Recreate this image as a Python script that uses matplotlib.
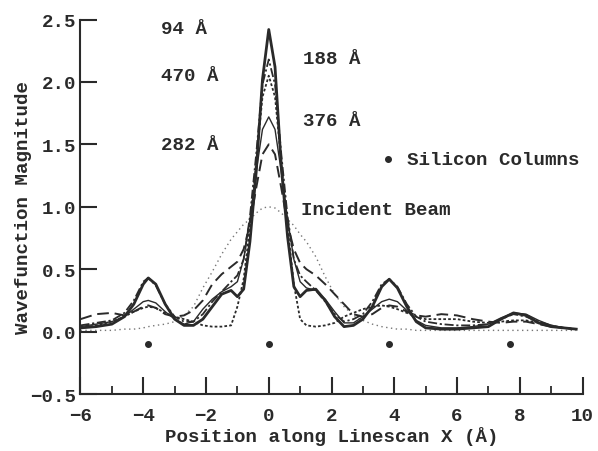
import matplotlib
matplotlib.use("Agg")
import matplotlib.pyplot as plt
from matplotlib.ticker import MultipleLocator

x = [-6, -5.5, -5, -4.6, -4.3, -4.0, -3.84, -3.6, -3.3, -3.0, -2.7, -2.4, -2.1, -1.8, -1.5,
     -1.2, -1.0, -0.8, -0.6, -0.4, -0.2, 0, 0.2, 0.4, 0.6, 0.8, 1.0, 1.2, 1.5, 1.8, 2.1,
     2.4, 2.7, 3.0, 3.3, 3.6, 3.84, 4.1, 4.4, 4.7, 5.0, 5.5, 6.0, 6.5, 7.0, 7.4, 7.8,
     8.2, 8.6, 9.0, 9.4, 9.8]

t94 = [0.03, 0.04, 0.06, 0.12, 0.22, 0.38, 0.43, 0.38, 0.22, 0.10, 0.05, 0.05, 0.10, 0.20, 0.30,
       0.33, 0.28, 0.34, 0.72, 1.28, 2.02, 2.42, 2.12, 1.32, 0.76, 0.36, 0.28, 0.33, 0.34, 0.25, 0.12,
       0.04, 0.05, 0.10, 0.20, 0.36, 0.42, 0.35, 0.20, 0.08, 0.03, 0.02, 0.02, 0.03, 0.04, 0.10, 0.15,
       0.13, 0.07, 0.04, 0.03, 0.02]
t188 = [0.05, 0.07, 0.09, 0.15, 0.25, 0.40, 0.43, 0.37, 0.22, 0.12, 0.08, 0.08, 0.14, 0.24, 0.32,
        0.40, 0.45, 0.58, 0.92, 1.42, 1.98, 2.18, 1.98, 1.42, 0.92, 0.58, 0.45, 0.40, 0.33, 0.24, 0.14,
        0.08, 0.10, 0.14, 0.24, 0.38, 0.42, 0.36, 0.22, 0.12, 0.08, 0.06, 0.05, 0.05, 0.06, 0.10, 0.14,
        0.12, 0.08, 0.05, 0.03, 0.02]
t282 = [0.10, 0.14, 0.15, 0.13, 0.16, 0.20, 0.21, 0.19, 0.14, 0.12, 0.13, 0.17, 0.25, 0.38, 0.46,
        0.52, 0.56, 0.66, 0.86, 1.15, 1.42, 1.50, 1.42, 1.15, 0.86, 0.66, 0.55, 0.50, 0.45, 0.38, 0.30,
        0.22, 0.14, 0.12, 0.14, 0.19, 0.21, 0.20, 0.16, 0.13, 0.12, 0.14, 0.13, 0.10, 0.08, 0.07, 0.08,
        0.08, 0.06, 0.04, 0.03, 0.02]
t376 = [0.04, 0.06, 0.08, 0.12, 0.18, 0.24, 0.25, 0.23, 0.16, 0.10, 0.06, 0.08, 0.18, 0.26, 0.32,
        0.36, 0.40, 0.58, 0.90, 1.28, 1.62, 1.72, 1.62, 1.28, 0.90, 0.58, 0.40, 0.35, 0.33, 0.26, 0.16,
        0.07, 0.07, 0.12, 0.18, 0.24, 0.26, 0.24, 0.17, 0.09, 0.05, 0.03, 0.03, 0.04, 0.06, 0.11, 0.15,
        0.14, 0.09, 0.05, 0.03, 0.02]
t470 = [0.03, 0.05, 0.08, 0.12, 0.16, 0.19, 0.20, 0.19, 0.15, 0.12, 0.10, 0.08, 0.05, 0.04, 0.04,
        0.05, 0.20, 0.42, 0.84, 1.36, 1.88, 2.05, 1.88, 1.36, 0.84, 0.38, 0.10, 0.05, 0.04, 0.05, 0.07,
        0.12, 0.15, 0.18, 0.20, 0.21, 0.20, 0.18, 0.15, 0.12, 0.10, 0.10, 0.10, 0.08, 0.07, 0.08, 0.09,
        0.09, 0.07, 0.05, 0.03, 0.02]
incident = [0.01, 0.01, 0.01, 0.02, 0.02, 0.03, 0.04, 0.05, 0.06, 0.08, 0.13, 0.20, 0.35, 0.48, 0.62,
            0.74, 0.80, 0.86, 0.90, 0.95, 0.99, 1.00, 0.99, 0.95, 0.90, 0.85, 0.78, 0.72, 0.60, 0.44, 0.30,
            0.20, 0.13, 0.09, 0.06, 0.04, 0.03, 0.02, 0.02, 0.01, 0.01, 0.01, 0.01, 0.01, 0.01, 0.01, 0.01,
            0.01, 0.01, 0.01, 0.01, 0.01]

si_x = [-3.84, 0.0, 3.84, 7.68]
si_y = [-0.1, -0.1, -0.1, -0.1]

labels = ["94 Å", "470 Å", "282 Å", "188 Å", "376 Å", "Incident Beam"]
label_x = [-3.45, -3.45, -3.45, 1.08, 1.08, 1.02]
label_y = [2.43, 2.05, 1.50, 2.19, 1.69, 0.98]

xticks = [-6, -4, -2, 0, 2, 4, 6, 8, 10]
yticks = [-0.5, 0.0, 0.5, 1.0, 1.5, 2.0, 2.5]

ink = "#2a2a2a"
font = dict(family="Liberation Mono", weight="bold", size=13.8, color=ink)

fig = plt.figure(figsize=(5.98, 4.52), dpi=100)
ax = fig.add_axes([0.1346, 0.126, 0.8395, 0.8286])

ax.plot(x, incident, color="#777777", lw=1.0, linestyle=(0, (1, 2.5)))
ax.plot(x, t470, color=ink, lw=1.3, linestyle=(0, (1.5, 1.2)))
ax.plot(x, t282, color=ink, lw=1.4, linestyle=(0, (6, 3)))
ax.plot(x, t188, color=ink, lw=1.3, linestyle=(0, (5, 1.5, 1.2, 1.5)))
ax.plot(x, t376, color=ink, lw=1.0, linestyle="-")
ax.plot(x, t94, color=ink, lw=2.0, linestyle="-")

ax.plot(si_x, si_y, linestyle="none", marker="o", markersize=4, color=ink)

for s, lx, ly in zip(labels, label_x, label_y):
    ax.text(lx, ly, s, ha="left", va="center", **font)
ax.plot([3.81], [1.38], linestyle="none", marker="o", markersize=4, color=ink)
ax.text(4.41, 1.38, "Silicon Columns", ha="left", va="center", **font)

ax.set_xlim(-6, 10)
ax.set_ylim(-0.5, 2.5)
ax.set_xticks(xticks)
ax.set_yticks(yticks)
ax.xaxis.set_minor_locator(MultipleLocator(1))
ax.set_xticklabels(["\u22126", "\u22124", "\u22122", "0", "2", "4", "6", "8", "10"])
ax.set_yticklabels(["\u22120.5", "0.0", "0.5", "1.0", "1.5", "2.0", "2.5"])

for side in ["top", "right"]:
    ax.spines[side].set_visible(False)
for side in ["left", "bottom"]:
    ax.spines[side].set_linewidth(1.5)
    ax.spines[side].set_color(ink)

ax.tick_params(axis="both", which="major", direction="in", length=12, width=1.5,
               color=ink, labelcolor=ink, labelsize=13.8)
ax.tick_params(axis="x", which="minor", direction="in", length=6, width=1.3, color=ink)
ax.tick_params(axis="x", which="major", pad=9)
ax.tick_params(axis="y", which="major", pad=3)
for lab in ax.get_xticklabels() + ax.get_yticklabels():
    lab.set_fontfamily("Liberation Mono")
    lab.set_fontweight("bold")

ax.set_xlabel("Position along Linescan X (Å)", labelpad=2, **font)
ax.set_ylabel("Wavefunction Magnitude", labelpad=-1, **font)

fig.savefig("out.png", dpi=100)
